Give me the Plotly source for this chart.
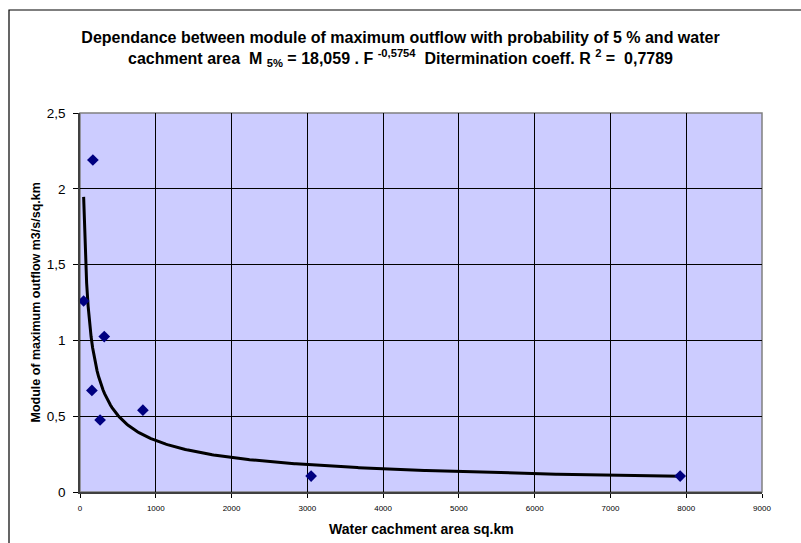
import numpy as np
import plotly.graph_objects as go

# Observed catchments: area (sq.km) and 5% maximum outflow module (m3/s/sq.km)
area_sqkm = [48, 170, 157, 265, 320, 830, 3050, 7920]
outflow_module = [1.26, 2.19, 0.67, 0.475, 1.025, 0.54, 0.105, 0.105]

# Power-law trendline coefficients M = a * F^b
coef_a = 18.059
coef_b = -0.5754

x_ticks = [0, 1000, 2000, 3000, 4000, 5000, 6000, 7000, 8000, 9000]
y_ticks = [0, 0.5, 1, 1.5, 2, 2.5]
y_tick_text = ["0", "0,5", "1", "1,5", "2", "2,5"]

trend_x = np.linspace(min(area_sqkm), max(area_sqkm), 400)
trend_y = coef_a * trend_x ** coef_b

fig = go.Figure()
fig.add_trace(go.Scatter(
    x=trend_x, y=trend_y, mode="lines",
    line=dict(color="black", width=3), hoverinfo="skip", showlegend=False,
))
fig.add_trace(go.Scatter(
    x=area_sqkm, y=outflow_module, mode="markers", cliponaxis=False,
    marker=dict(symbol="diamond", size=9, color="#000080"), showlegend=False,
))

font = "Liberation Sans, Arial, sans-serif"
W, H = 801, 543
L, R, T, B = 80, 39, 113, 51
pw, ph = W - L - R, H - T - B

fig.update_layout(
    width=W, height=H,
    margin=dict(l=L, r=R, t=T, b=B, autoexpand=False),
    paper_bgcolor="white",
    plot_bgcolor="#CCCCFF",
    font=dict(family=font, color="black"),
    title=dict(
        text=("<b>Dependance between module of maximum outflow with probability of 5 % and water<br>"
              "cachment area  M <sub>5%</sub> = 18,059 . F <sup>-0,5754</sup>  "
              "Ditermination coeff. R <sup>2</sup> =  0,7789</b>"),
        x=0.5, xanchor="center", y=1 - 43 / H, yanchor="middle", yref="container",
        font=dict(family=font, size=16, color="black"),
    ),
    xaxis=dict(
        range=[0, 9000], tickvals=x_ticks, ticktext=[str(v) for v in x_ticks],
        tickfont=dict(size=8), ticks="outside", ticklen=4, tickcolor="black",
        ticklabelstandoff=4, automargin=False,
        showgrid=True, gridcolor="black", gridwidth=1, zeroline=False,
        showline=True, linecolor="#404040", linewidth=1.5,
    ),
    yaxis=dict(
        range=[0, 2.5], tickvals=y_ticks, ticktext=y_tick_text,
        tickfont=dict(size=13.5), ticks="outside", ticklen=5, tickcolor="black",
        ticklabelstandoff=5, automargin=False,
        showgrid=True, gridcolor="black", gridwidth=1, zeroline=False,
        showline=True, linecolor="#404040", linewidth=1.5,
    ),
    annotations=[
        dict(text="<b>Water cachment area sq.km</b>", xref="paper", yref="paper",
             x=0.5, y=(T + ph - 529) / ph, xanchor="center", yanchor="middle",
             showarrow=False, font=dict(size=14)),
        dict(text="<b>Module of maximum outflow m3/s/sq.km</b>", xref="paper", yref="paper",
             x=(35 - L) / pw, y=0.5, xanchor="center", yanchor="middle", textangle=-90,
             showarrow=False, font=dict(size=12.5)),
    ],
    shapes=[
        # plot-area frame
        dict(type="rect", xref="paper", yref="paper", x0=0, y0=0, x1=1, y1=1,
             line=dict(color="#808080", width=1.5), layer="below"),
        # outer chart frame
        dict(type="rect", xref="paper", yref="paper",
             x0=(9 - L) / pw, x1=(W + 5 - L) / pw,
             y0=-(H + 5 - T - ph) / ph, y1=1 + (T - 10) / ph,
             line=dict(color="black", width=1.2), layer="above"),
    ],
)

fig.write_html("out.html")
